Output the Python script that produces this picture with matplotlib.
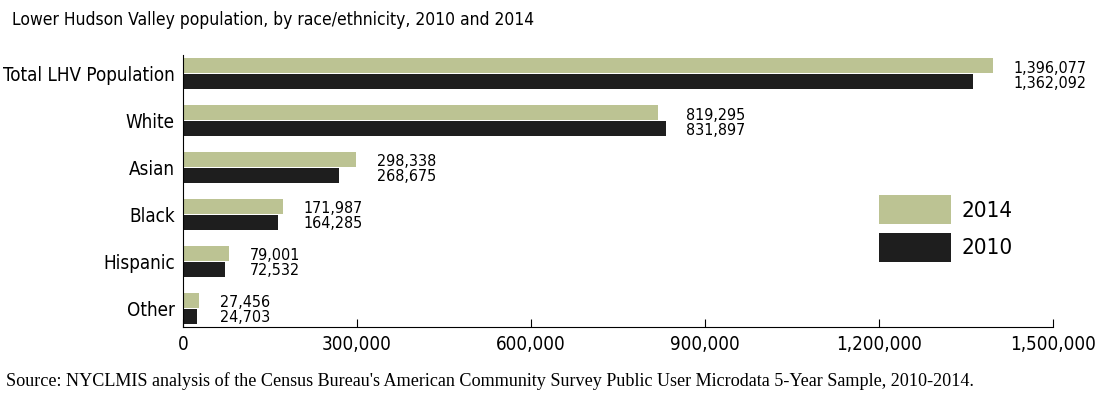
import matplotlib.pyplot as plt
import numpy as np

categorias = ["Total LHV Population", "White", "Asian", "Black", "Hispanic", "Other"]
pob_2014 = [1396077, 819295, 298338, 171987, 79001, 27456]
pob_2010 = [1362092, 831897, 268675, 164285, 72532, 24703]
ticks = [0, 300000, 600000, 900000, 1200000, 1500000]

plt.rcParams["font.family"] = ["DejaVu Sans"]
plt.rcParams["font.stretch"] = "condensed"

fig = plt.figure(figsize=(11.04, 3.97), dpi=100)
ax = fig.add_axes([0.1658, 0.1763, 0.788, 0.6852])

y = np.arange(len(categorias))
alto = 0.32
ax.barh(y - 0.17, pob_2014, height=alto, color="#bcc393", label="2014")
ax.barh(y + 0.17, pob_2010, height=alto, color="#1e1e1e", label="2010")

# etiquetas con los valores a la derecha de cada par de barras
for i in range(len(categorias)):
    x_fin = max(pob_2014[i], pob_2010[i])
    ax.annotate(f"{pob_2014[i]:,}", (x_fin, y[i] - 0.12), xytext=(15, 0),
                textcoords="offset points", va="center", ha="left", fontsize=11.5)
    ax.annotate(f"{pob_2010[i]:,}", (x_fin, y[i] + 0.2), xytext=(15, 0),
                textcoords="offset points", va="center", ha="left", fontsize=11.5)

ax.set_ylim(len(categorias) - 0.6, -0.4)
ax.set_xlim(0, 1500000)
ax.set_yticks(y)
ax.set_yticklabels(categorias, fontsize=13.5)
ax.set_xticks(ticks)
ax.set_xticklabels([f"{t:,}" for t in ticks], fontsize=13.5)
ax.tick_params(axis="y", length=0, pad=6)
ax.tick_params(axis="x", direction="in", length=6, pad=6)
ax.spines["top"].set_visible(False)
ax.spines["right"].set_visible(False)

ax.legend(loc="upper left", bbox_to_anchor=(0.800, 0.485), frameon=False,
          fontsize=16, handlelength=3.25, handleheight=1.62, labelspacing=0.4,
          handletextpad=0.45, borderaxespad=0, borderpad=0)

fig.text(0.011, 0.95, "Lower Hudson Valley population, by race/ethnicity, 2010 and 2014",
         fontsize=12.5, ha="left", va="center")
fig.text(0.005, 0.04, "Source: NYCLMIS analysis of the Census Bureau's American Community Survey "
         "Public User Microdata 5-Year Sample, 2010-2014.",
         fontsize=13.1, ha="left", va="center", family="Liberation Serif")

plt.savefig("out.png")
